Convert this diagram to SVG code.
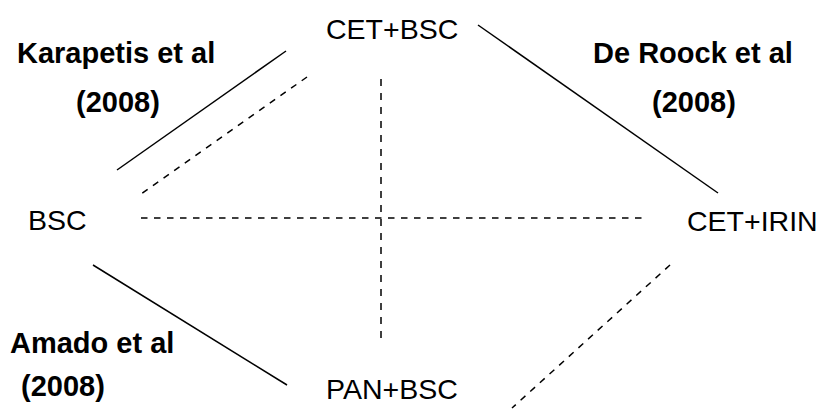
<svg xmlns="http://www.w3.org/2000/svg" width="820" height="412" viewBox="0 0 820 412">
  <style>
    .node { font-family: "Liberation Sans", Arial, sans-serif; font-size: 28.5px; fill: #000; }
    .study { font-family: "Liberation Sans", Arial, sans-serif; font-size: 29px; font-weight: bold; fill: #000; }
    .solid { stroke: #000; stroke-width: 1.5; fill: none; }
    .dashed { stroke: #000; stroke-width: 1.5; fill: none; stroke-dasharray: 6.5 6.5; }
  </style>
  <rect width="820" height="412" fill="#fff"/>

  <!-- comparisons between treatments -->
  <g id="connectors">
    <!-- direct trials -->
    <line class="solid" x1="117" y1="170" x2="286" y2="51"/>
    <line class="solid" x1="478" y1="25" x2="718" y2="193"/>
    <line class="solid" x1="93" y1="265" x2="287" y2="385"/>
    <!-- indirect comparisons -->
    <line class="dashed" x1="307" y1="77" x2="141" y2="194"/>
    <line class="dashed" x1="381" y1="79" x2="381" y2="340" style="stroke-dasharray:7 7"/>
    <line class="dashed" x1="141" y1="218" x2="648" y2="218"/>
    <line class="dashed" x1="670" y1="265" x2="512" y2="408"/>
  </g>

  <g id="node-cet-bsc"><text class="node" x="326" y="39">CET+BSC</text></g>
  <g id="node-bsc"><text class="node" x="28" y="230">BSC</text></g>
  <g id="node-cet-irin"><text class="node" x="687" y="231">CET+IRIN</text></g>
  <g id="node-pan-bsc"><text class="node" x="326" y="399">PAN+BSC</text></g>

  <g id="label-karapetis">
    <text class="study" x="17" y="63">Karapetis et al</text>
    <text class="study" x="76" y="112">(2008)</text>
  </g>
  <g id="label-de-roock">
    <text class="study" x="593" y="63">De Roock et al</text>
    <text class="study" x="652" y="112">(2008)</text>
  </g>
  <g id="label-amado">
    <text class="study" x="10" y="353">Amado et al</text>
    <text class="study" x="21" y="396">(2008)</text>
  </g>
</svg>
